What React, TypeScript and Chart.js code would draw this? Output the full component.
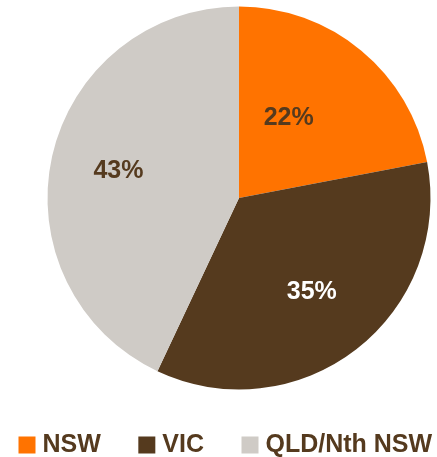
import React, { useEffect, useRef } from "react";
import { Chart, registerables } from "chart.js";

Chart.register(...registerables);

const categories = ["NSW", "VIC", "QLD/Nth NSW"];
const shares = [22, 35, 43];
const sliceColors = ["#FF7300", "#553A1E", "#CFCBC6"];
const labelColors = ["#553A1E", "#FFFFFF", "#553A1E"];
const labelRadius = [0.49, 0.62, 0.645];
const labelAngleShiftDeg = [-7.6, 0, 0];

const TEXT = "#553A1E";
const FONT = "'Liberation Sans', Arial, sans-serif";

const sliceLabels = {
  id: "sliceLabels",
  afterDatasetsDraw(chart: any) {
    const ctx = chart.ctx;
    const meta = chart.getDatasetMeta(0);
    ctx.save();
    ctx.font = `bold 25px ${FONT}`;
    ctx.textAlign = "center";
    ctx.textBaseline = "middle";
    meta.data.forEach((arc: any, i: number) => {
      const { x, y, startAngle, endAngle, outerRadius } = arc.getProps(
        ["x", "y", "startAngle", "endAngle", "outerRadius"],
        true
      );
      const mid = (startAngle + endAngle) / 2 + (labelAngleShiftDeg[i] * Math.PI) / 180;
      const r = outerRadius * labelRadius[i];
      ctx.fillStyle = labelColors[i];
      ctx.fillText(`${shares[i]}%`, x + Math.cos(mid) * r, y + Math.sin(mid) * r);
    });
    ctx.restore();
  },
};

export default function App() {
  const ref = useRef<HTMLCanvasElement | null>(null);
  useEffect(() => {
    if (!ref.current) return;
    const chart = new Chart(ref.current, {
      type: "pie",
      data: {
        labels: categories,
        datasets: [
          {
            data: shares,
            backgroundColor: sliceColors,
            borderWidth: 0,
          },
        ],
      },
      options: {
        responsive: false,
        animation: false,
        layout: { padding: { left: 0, right: 0, top: 6.5, bottom: 0 } },
        plugins: {
          tooltip: { enabled: false },
          legend: {
            position: "bottom",
            align: "start",
            maxHeight: 67.5,
            labels: {
              usePointStyle: true,
              pointStyle: "rect",
              boxWidth: 6,
              boxHeight: 17,
              padding: 43,
              color: TEXT,
              font: { family: FONT, size: 25, weight: "bold" },
            },
          },
        },
      },
      plugins: [sliceLabels],
    });
    return () => chart.destroy();
  }, []);
  return (
    <div
      style={{
        position: "fixed",
        left: 0,
        top: 0,
        width: 437,
        height: 457,
        overflow: "hidden",
        background: "#fff",
      }}
    >
      <canvas
        ref={ref}
        width={516}
        height={457}
        style={{ position: "absolute", left: -19, top: 0 }}
      />
    </div>
  );
}
